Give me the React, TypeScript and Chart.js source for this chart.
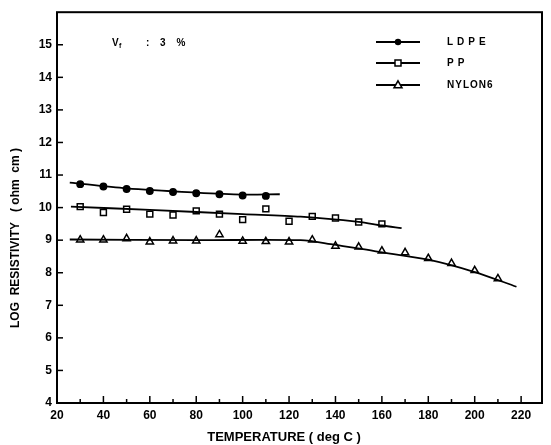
import React, { useEffect, useRef } from "react";
import { Chart, registerables } from "chart.js";

Chart.register(...registerables);

const ldpeTemps = [30, 40, 50, 60, 70, 80, 90, 100, 110];
const ldpeValues = [10.72, 10.65, 10.57, 10.51, 10.48, 10.44, 10.41, 10.37, 10.36];
const ldpeFitTemps = [25.5, 50, 80, 100, 116];
const ldpeFitValues = [10.77, 10.59, 10.46, 10.4, 10.41];

const ppTemps = [30, 40, 50, 60, 70, 80, 90, 100, 110, 120, 130, 140, 150, 160];
const ppValues = [10.03, 9.85, 9.95, 9.8, 9.77, 9.9, 9.8, 9.63, 9.96, 9.58, 9.73, 9.68, 9.56, 9.5];
const ppFitTemps = [26, 60, 100, 125, 150, 160, 168.5];
const ppFitValues = [10.03, 9.93, 9.8, 9.72, 9.56, 9.45, 9.37];

const nylonTemps = [30, 40, 50, 60, 70, 80, 90, 100, 110, 120, 130, 140, 150, 160, 170, 180, 190, 200, 210];
const nylonValues = [9.01, 9.01, 9.05, 8.95, 8.98, 8.98, 9.17, 8.97, 8.96, 8.95, 9.01, 8.82, 8.79, 8.67, 8.62, 8.44, 8.29, 8.07, 7.82];
const nylonFitTemps = [25.5, 80, 125, 138, 158, 180, 200, 218];
const nylonFitValues = [9.02, 9.0, 9.0, 8.88, 8.65, 8.4, 8.02, 7.57];

const xTickValues = [20, 30, 40, 50, 60, 70, 80, 90, 100, 110, 120, 130, 140, 150, 160, 170, 180, 190, 200, 210, 220];
const yTickValues = [4, 5, 6, 7, 8, 9, 10, 11, 12, 13, 14, 15];

const legendNames = ["LDPE", "PP", "NYLON6"];
const legendStyles = ["circle", "rect", "triangle"];
const noteText = ": 3 %";
const xTitle = "TEMPERATURE ( deg C )";
const yTitle = "LOG  RESISTIVITY   ( ohm  cm )";

const pts = (xs: number[], ys: number[]) => xs.map((x, i) => ({ x, y: ys[i] }));

function drawMarker(ctx: CanvasRenderingContext2D, style: string, x: number, y: number) {
  ctx.save();
  ctx.lineWidth = 1.5;
  ctx.strokeStyle = "#000";
  ctx.beginPath();
  if (style === "circle") {
    ctx.fillStyle = "#000";
    ctx.arc(x, y, 3.2, 0, Math.PI * 2);
    ctx.fill();
  } else if (style === "rect") {
    ctx.fillStyle = "#fff";
    ctx.rect(x - 3, y - 3, 6, 6);
    ctx.fill();
    ctx.stroke();
  } else {
    ctx.fillStyle = "#fff";
    ctx.moveTo(x, y - 4.2);
    ctx.lineTo(x + 4, y + 2.8);
    ctx.lineTo(x - 4, y + 2.8);
    ctx.closePath();
    ctx.fill();
    ctx.stroke();
  }
  ctx.restore();
}

const decorPlugin = {
  id: "decor",
  afterDraw(chart: any) {
    const { ctx, chartArea } = chart;
    const xs = chart.scales.x;
    const ys = chart.scales.y;
    ctx.save();
    ctx.strokeStyle = "#000";
    ctx.lineWidth = 2;
    ctx.strokeRect(chartArea.left, chartArea.top, chartArea.right - chartArea.left, chartArea.bottom - chartArea.top);
    ctx.lineWidth = 1.5;
    xTickValues.forEach((v) => {
      if (v === 20) return;
      const px = xs.getPixelForValue(v);
      const len = v % 20 === 0 ? 7 : 4;
      ctx.beginPath();
      ctx.moveTo(px, chartArea.bottom);
      ctx.lineTo(px, chartArea.bottom - len);
      ctx.stroke();
    });
    yTickValues.forEach((v) => {
      if (v === 4) return;
      const py = ys.getPixelForValue(v);
      ctx.beginPath();
      ctx.moveTo(chartArea.left, py);
      ctx.lineTo(chartArea.left + 6, py);
      ctx.stroke();
    });

    // legend
    const rowY = [42, 63, 85];
    legendNames.forEach((name, i) => {
      const y = rowY[i];
      ctx.lineWidth = 1.8;
      ctx.beginPath();
      ctx.moveTo(376, y);
      ctx.lineTo(420, y);
      ctx.stroke();
      drawMarker(ctx, legendStyles[i], 398, y);
      ctx.fillStyle = "#000";
      ctx.font = "bold 10px 'Liberation Sans'";
      ctx.textBaseline = "middle";
      ctx.textAlign = "left";
      (ctx as any).letterSpacing = i === 2 ? "1px" : "4px";
      ctx.fillText(name, 447, y);
    });
    (ctx as any).letterSpacing = "0px";

    // note
    ctx.fillStyle = "#000";
    ctx.font = "bold 10px 'Liberation Sans'";
    ctx.textBaseline = "middle";
    ctx.fillText("V", 112, 43);
    ctx.font = "bold 7px 'Liberation Sans'";
    ctx.fillText("f", 119, 46);
    ctx.font = "bold 10px 'Liberation Sans'";
    (ctx as any).letterSpacing = "4px";
    ctx.fillText(noteText, 146, 43);
    (ctx as any).letterSpacing = "0px";

    // axis titles
    ctx.font = "bold 13px 'Liberation Sans'";
    ctx.textAlign = "center";
    ctx.fillText(xTitle, 284, 437);
    ctx.font = "bold 12px 'Liberation Sans'";
    ctx.translate(16, 238);
    ctx.rotate(-Math.PI / 2);
    ctx.fillText(yTitle, 0, 0);
    ctx.restore();
  },
};

export default function App() {
  const ref = useRef<HTMLCanvasElement>(null);
  useEffect(() => {
    if (!ref.current) return;
    const lineDs = (xs: number[], ys: number[]) => ({
      data: pts(xs, ys),
      borderColor: "#000",
      borderWidth: 1.8,
      pointRadius: 0,
      tension: 0.3,
      fill: false,
    });
    const markDs = (xs: number[], ys: number[], style: string, filled: boolean, r: number) => ({
      data: pts(xs, ys),
      showLine: false,
      pointStyle: style,
      pointRadius: r,
      pointBorderWidth: 1.5,
      pointBorderColor: "#000",
      pointBackgroundColor: filled ? "#000" : "#fff",
    });
    const chart = new Chart(ref.current, {
      type: "line",
      data: {
        datasets: [
          lineDs(ldpeFitTemps, ldpeFitValues),
          lineDs(ppFitTemps, ppFitValues),
          lineDs(nylonFitTemps, nylonFitValues),
          markDs(ldpeTemps, ldpeValues, "circle", true, 3.2),
          markDs(ppTemps, ppValues, "rect", false, 4.2),
          markDs(nylonTemps, nylonValues, "triangle", false, 4.2),
        ] as any,
      },
      options: {
        animation: false,
        responsive: true,
        maintainAspectRatio: false,
        layout: { padding: { left: 0, right: 9, top: 8, bottom: 0 } },
        plugins: { legend: { display: false }, tooltip: { enabled: false } },
        scales: {
          x: {
            type: "linear",
            min: 20,
            max: 229,
            afterBuildTicks: (s: any) => {
              s.ticks = xTickValues.map((v) => ({ value: v }));
            },
            afterFit: (s: any) => {
              s.height = 42;
            },
            ticks: {
              autoSkip: false,
              maxRotation: 0,
              padding: 5,
              color: "#000",
              font: { family: "'Liberation Sans'", size: 12, weight: "bold" },
              callback: (v: any) => (Number(v) % 20 === 0 ? String(v) : ""),
            },
            grid: { display: false, drawTicks: false },
            border: { display: false },
          },
          y: {
            type: "linear",
            min: 4,
            max: 16,
            afterBuildTicks: (s: any) => {
              s.ticks = yTickValues.map((v) => ({ value: v }));
            },
            afterFit: (s: any) => {
              s.width = 57;
            },
            ticks: {
              padding: 5,
              color: "#000",
              font: { family: "'Liberation Sans'", size: 12, weight: "bold" },
            },
            grid: { display: false, drawTicks: false },
            border: { display: false },
          },
        },
      } as any,
      plugins: [decorPlugin],
    });
    return () => chart.destroy();
  }, []);
  return (
    <div style={{ position: "fixed", left: 0, top: 0, width: 551, height: 445, background: "#fff" }}>
      <canvas ref={ref} />
    </div>
  );
}
